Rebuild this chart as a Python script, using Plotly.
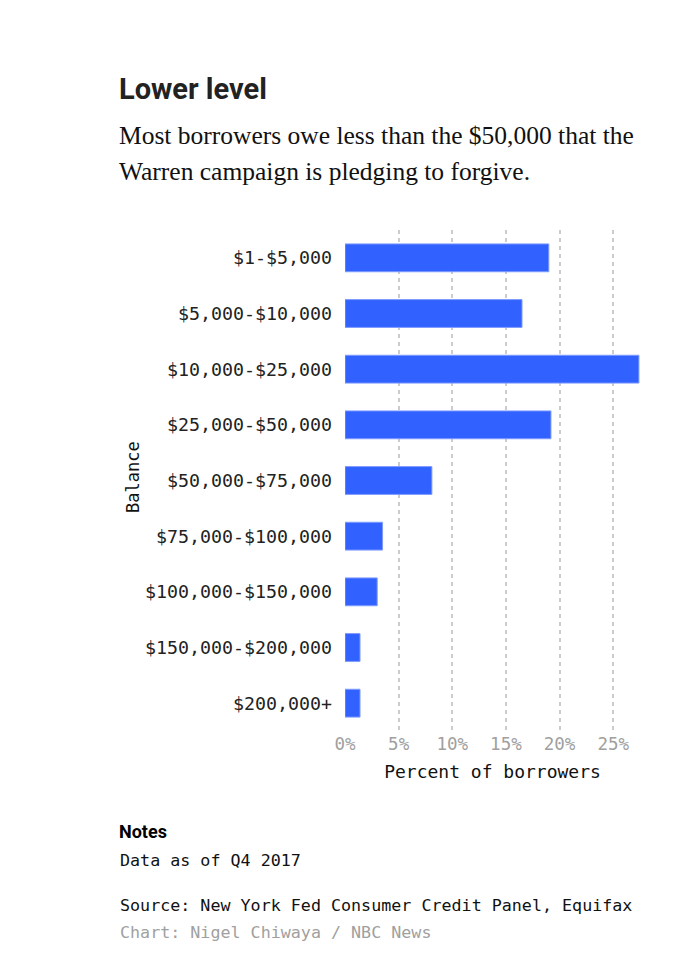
import plotly.graph_objects as go

# student loan balances, share of borrowers (%), Q4 2017
balances = ["$1-$5,000", "$5,000-$10,000", "$10,000-$25,000", "$25,000-$50,000",
            "$50,000-$75,000", "$75,000-$100,000", "$100,000-$150,000",
            "$150,000-$200,000", "$200,000+"]
pct_borrowers = [19.0, 16.5, 27.4, 19.2, 8.1, 3.5, 3.0, 1.4, 1.4]

x_ticks = [0, 5, 10, 15, 20, 25]
x_tick_text = ["0%", "5%", "10%", "15%", "20%", "25%"]

mono = "DejaVu Sans Mono, Liberation Mono, monospace"
serif = "Liberation Serif, DejaVu Serif, serif"
head = "Roboto, Arial, sans-serif"

# page has an 8px body margin, so work in figure pixels
W, H = 683, 961
L, R, T, B = 337, 51, 222, 238
pw, ph = W - L - R, H - T - B

def px(x):
    return (x - L) / pw

def py(y):
    return (H - B - y) / ph

fig = go.Figure()
fig.add_trace(go.Bar(
    y=balances, x=pct_borrowers, orientation="h",
    marker_color="#3162ff",
    marker_line=dict(color="#7f9bff", width=1),
    hoverinfo="x+y",
))

fig.update_layout(
    width=W, height=H,
    margin=dict(l=L, r=R, t=T, b=B),
    paper_bgcolor="white", plot_bgcolor="white",
    bargap=0.5,
    showlegend=False,
    font=dict(family=mono, size=17, color="#222"),
)
fig.update_xaxes(
    range=[0, 27.5], tickvals=x_ticks, ticktext=x_tick_text,
    tickfont=dict(family=mono, size=17.5, color="#a0a0a0"),
    showgrid=True, gridcolor="#cccccc", griddash="4px,4px", gridwidth=1.5,
    zeroline=False, showline=False, ticks="", ticklabelstandoff=0,
    title=dict(text="Percent of borrowers", font=dict(family=mono, size=18, color="#111"), standoff=12),
    fixedrange=True,
)
fig.update_yaxes(
    categoryorder="array", categoryarray=balances, autorange="reversed",
    tickfont=dict(family=mono, size=18.3, color="#222"),
    showgrid=False, zeroline=False, showline=False, ticks="",
    ticklabelstandoff=12,
    fixedrange=True,
)

# y axis title placed manually, left of the tick labels
fig.add_annotation(text="Balance", xref="paper", yref="paper", x=px(113), y=py(469),
                   textangle=-90, showarrow=False,
                   font=dict(family=mono, size=17, color="#111"))

fig.add_annotation(text="<b>Lower level</b>", xref="paper", yref="paper",
                   x=px(109), xanchor="left", y=py(81), yanchor="middle",
                   showarrow=False, font=dict(family=head, size=29, color="#222"))
fig.add_annotation(text="Most borrowers owe less than the $50,000 that the",
                   xref="paper", yref="paper", x=px(109), xanchor="left",
                   y=py(128), yanchor="middle", showarrow=False,
                   font=dict(family=serif, size=25.5, color="#111"))
fig.add_annotation(text="Warren campaign is pledging to forgive.",
                   xref="paper", yref="paper", x=px(109), xanchor="left",
                   y=py(163), yanchor="middle", showarrow=False,
                   font=dict(family=serif, size=25.5, color="#111"))

fig.add_annotation(text="<b>Notes</b>", xref="paper", yref="paper",
                   x=px(109), xanchor="left", y=py(823), yanchor="middle",
                   showarrow=False, font=dict(family=head, size=18, color="#000"))
fig.add_annotation(text="Data as of Q4 2017", xref="paper", yref="paper",
                   x=px(110), xanchor="left", y=py(852), yanchor="middle",
                   showarrow=False, font=dict(family=mono, size=16.7, color="#111"))
fig.add_annotation(text="Source: New York Fed Consumer Credit Panel, Equifax", xref="paper", yref="paper",
                   x=px(110), xanchor="left", y=py(897), yanchor="middle",
                   showarrow=False, font=dict(family=mono, size=16.7, color="#111"))
fig.add_annotation(text="Chart: Nigel Chiwaya / NBC News", xref="paper", yref="paper",
                   x=px(110), xanchor="left", y=py(924), yanchor="middle",
                   showarrow=False, font=dict(family=mono, size=16.7, color="#a0a0a0"))

fig.write_html("out.html", config={"displayModeBar": False})
